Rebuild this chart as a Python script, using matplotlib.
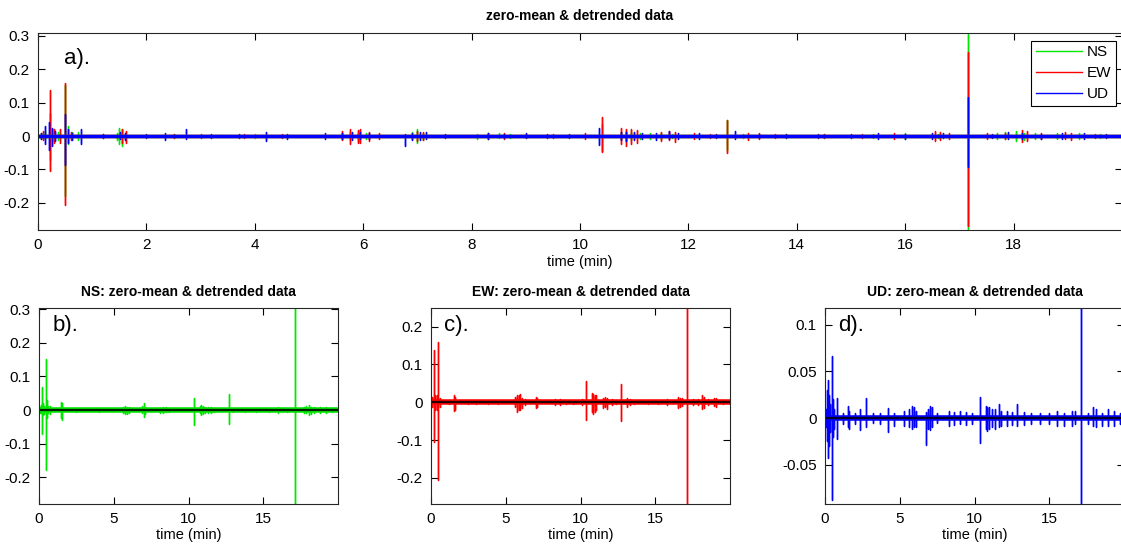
import numpy as np
import matplotlib.pyplot as plt

# spike events: time (min), upper peak, lower peak
ns_t = [0.05, 0.12, 0.225, 0.30, 0.36, 0.49, 0.55, 0.62, 0.74, 1.45, 1.50, 1.55, 2.5, 3.3, 4.0,
        5.6, 5.75, 5.9, 6.05, 6.9, 7.0, 7.1, 8.1, 8.3, 8.5, 8.7, 10.4, 10.75, 10.85, 10.95,
        11.1, 11.3, 11.5, 11.7, 12.72, 13.0, 13.8, 14.5, 15.4, 16.0, 16.6, 17.15, 17.7, 17.85,
        18.05, 18.2, 18.4, 18.8, 19.2, 19.6]
ns_hi = [0.008, 0.015, 0.068, 0.02, 0.012, 0.152, 0.03, 0.012, 0.012, 0.01, 0.025, 0.02, 0.005, 0.004, 0.005,
         0.01, 0.012, 0.01, 0.008, 0.012, 0.02, 0.01, 0.006, 0.008, 0.008, 0.006, 0.037, 0.012, 0.015, 0.012,
         0.01, 0.008, 0.008, 0.006, 0.047, 0.006, 0.005, 0.006, 0.006, 0.008, 0.006, 0.305, 0.01, 0.012,
         0.015, 0.01, 0.008, 0.01, 0.008, 0.006]
ns_lo = [-0.008, -0.01, -0.072, -0.015, -0.012, -0.178, -0.025, -0.01, -0.012, -0.012, -0.025, -0.03, -0.005, -0.004, -0.005,
         -0.008, -0.012, -0.012, -0.01, -0.008, -0.02, -0.012, -0.008, -0.008, -0.006, -0.006, -0.045, -0.01, -0.015, -0.012,
         -0.01, -0.008, -0.01, -0.006, -0.042, -0.006, -0.005, -0.006, -0.006, -0.008, -0.006, -0.28, -0.01, -0.01,
         -0.015, -0.012, -0.008, -0.008, -0.008, -0.006]

ew_t = [0.1, 0.225, 0.3, 0.40, 0.49, 0.6, 1.2, 1.55, 1.62, 2.5, 3.0, 3.8, 4.5, 5.6, 5.75, 5.9, 5.95,
        6.1, 6.3, 7.0, 7.1, 8.3, 8.6, 9.0, 9.5, 10.1, 10.4, 10.75, 10.85, 10.95, 11.05, 11.5, 11.65,
        11.75, 12.1, 12.4, 12.72, 13.1, 13.3, 13.6, 14.5, 15.2, 15.8, 16.55, 16.65, 16.8, 17.15, 17.5,
        17.85, 18.15, 18.25, 18.5, 18.95, 19.05, 19.5]
ew_hi = [0.015, 0.137, 0.02, 0.02, 0.159, 0.012, 0.006, 0.02, 0.015, 0.006, 0.005, 0.006, 0.006, 0.015, 0.02, 0.018, 0.022,
         0.012, 0.008, 0.015, 0.012, 0.008, 0.008, 0.006, 0.006, 0.008, 0.057, 0.025, 0.022, 0.02, 0.018, 0.012, 0.014,
         0.012, 0.008, 0.006, 0.048, 0.01, 0.008, 0.006, 0.006, 0.005, 0.008, 0.015, 0.012, 0.01, 0.25, 0.008,
         0.008, 0.018, 0.014, 0.008, 0.012, 0.01, 0.006]
ew_lo = [-0.012, -0.104, -0.02, -0.02, -0.206, -0.012, -0.006, -0.022, -0.02, -0.006, -0.005, -0.006, -0.006, -0.012, -0.025, -0.02, -0.02,
         -0.015, -0.008, -0.015, -0.012, -0.008, -0.008, -0.006, -0.006, -0.008, -0.047, -0.025, -0.03, -0.025, -0.02, -0.015, -0.012,
         -0.018, -0.008, -0.006, -0.05, -0.012, -0.008, -0.006, -0.006, -0.005, -0.008, -0.015, -0.012, -0.01, -0.27, -0.008,
         -0.008, -0.018, -0.015, -0.008, -0.01, -0.012, -0.006]

ud_t = [0.05, 0.12, 0.20, 0.25, 0.32, 0.49, 0.55, 0.62, 0.8, 1.2, 1.52, 1.6, 2.0, 2.35, 2.73, 3.2, 3.7,
        4.2, 4.6, 5.3, 5.6, 5.8, 5.95, 6.1, 6.78, 6.9, 7.05, 7.15, 7.5, 8.3, 8.6, 9.0, 9.4, 9.8,
        10.35, 10.75, 10.85, 11.0, 11.15, 11.4, 11.65, 11.8, 12.2, 12.5, 12.86, 13.3, 13.8, 14.4, 15.0,
        15.5, 16.0, 16.5, 16.7, 17.15, 17.6, 17.9, 18.15, 18.5, 18.9, 19.3, 19.7]
ud_hi = [0.01, 0.03, 0.041, 0.025, 0.015, 0.067, 0.02, 0.01, 0.022, 0.006, 0.013, 0.008, 0.005, 0.01, 0.022, 0.005, 0.006,
         0.011, 0.006, 0.008, 0.01, 0.013, 0.012, 0.008, 0.0065, 0.01, 0.013, 0.012, 0.005, 0.008, 0.007, 0.008, 0.007, 0.006,
         0.023, 0.013, 0.012, 0.012, 0.01, 0.01, 0.015, 0.008, 0.008, 0.007, 0.015, 0.007, 0.006, 0.006, 0.006,
         0.008, 0.006, 0.008, 0.008, 0.118, 0.006, 0.012, 0.01, 0.006, 0.01, 0.008, 0.006]
ud_lo = [-0.01, -0.025, -0.043, -0.03, -0.015, -0.0875, -0.02, -0.012, -0.0225, -0.006, -0.01, -0.012, -0.006, -0.013, -0.009, -0.005, -0.006,
         -0.015, -0.008, -0.008, -0.01, -0.012, -0.01, -0.01, -0.029, -0.012, -0.0125, -0.01, -0.005, -0.008, -0.007, -0.006, -0.007, -0.006,
         -0.027, -0.012, -0.014, -0.012, -0.01, -0.012, -0.01, -0.008, -0.008, -0.007, -0.008, -0.007, -0.006, -0.006, -0.006,
         -0.008, -0.008, -0.008, -0.006, -0.092, -0.006, -0.008, -0.01, -0.008, -0.008, -0.008, -0.006]

t_end = 20.0
ylim_all = (-0.281, 0.308)
ylim_ns = (-0.279, 0.303)
ylim_ew = (-0.269, 0.249)
ylim_ud = (-0.092, 0.118)


def trace(ts, hi, lo):
    # each event drawn as 0 -> peak -> trough -> 0 at the same time
    x, y = [0.0], [0.0]
    for t, h, l in zip(ts, hi, lo):
        x += [t, t, t, t]
        y += [0.0, h, l, 0.0]
    x.append(t_end)
    y.append(0.0)
    return np.array(x), np.array(y)


channels = [('NS', (0, 0.9, 0), trace(ns_t, ns_hi, ns_lo), ylim_ns, [-0.2, -0.1, 0, 0.1, 0.2, 0.3], 'b).'),
            ('EW', (1, 0, 0), trace(ew_t, ew_hi, ew_lo), ylim_ew, [-0.2, -0.1, 0, 0.1, 0.2], 'c).'),
            ('UD', (0, 0, 1), trace(ud_t, ud_hi, ud_lo), ylim_ud, [-0.05, 0, 0.05, 0.1], 'd).')]

plt.rcParams['font.family'] = ['Liberation Sans', 'DejaVu Sans']
W, H = 1121, 548
fig = plt.figure(figsize=(W / 100, H / 100), dpi=100)


def style(ax):
    ax.tick_params(direction='in', top=True, right=True, length=5, width=0.8, labelsize=11, pad=6)
    for s in ax.spines.values():
        s.set_linewidth(0.8)
        s.set_color('0.15')


# top panel
ax = fig.add_axes([38 / W, 1 - 230 / H, (1122 - 38) / W, 197 / H])
for name, col, (x, y), _, _, _ in channels:
    ax.plot(x, y, color=col, lw=1, label=name)
for name, col, (x, y), _, _, _ in channels:
    ax.plot(x, np.zeros_like(y), color=col, lw=2.5)
ax.set_xlim(0, t_end)
ax.set_ylim(*ylim_all)
ax.set_xticks(range(0, 20, 2))
ax.set_yticks([-0.2, -0.1, 0, 0.1, 0.2, 0.3])
ax.set_yticklabels(['-0.2', '-0.1', '0', '0.1', '0.2', '0.3'])
style(ax)
ax.set_title('zero-mean & detrended data', fontsize=10, fontweight='bold', pad=9)
ax.set_xlabel('time (min)', fontsize=10.5, labelpad=2)
ax.text(0.024, 0.87, 'a).', transform=ax.transAxes, fontsize=16, va='center')
leg = ax.legend(loc='upper right', bbox_to_anchor=(0.9945, 0.96), fontsize=11, fancybox=False,
                framealpha=1, edgecolor='black', handlelength=3.0, borderaxespad=0,
                labelspacing=0.45, handletextpad=0.35, borderpad=0.3)
leg.get_frame().set_linewidth(0.8)

# bottom panels
lefts = [39, 431, 825]
for left, (name, col, (x, y), ylim, yt, tag) in zip(lefts, channels):
    ax = fig.add_axes([left / W, 1 - 504 / H, 299 / W, 196 / H])
    ax.plot(x, np.zeros_like(y), color=col, lw=4)
    ax.plot(x, y, color=col, lw=1)
    ax.plot(x, np.zeros_like(y), color='black', lw=1.6, alpha=0.85)
    ax.set_xlim(0, t_end)
    ax.set_ylim(*ylim)
    ax.set_xticks([0, 5, 10, 15])
    ax.set_yticks(yt)
    ax.set_yticklabels([('%g' % v) for v in yt])
    style(ax)
    ax.set_title(name + ': zero-mean & detrended data', fontsize=10, fontweight='bold', pad=9)
    ax.set_xlabel('time (min)', fontsize=10.5, labelpad=1)
    ax.text(0.045, 0.91, tag, transform=ax.transAxes, fontsize=16, va='center')

plt.savefig('out.png', dpi=100)
